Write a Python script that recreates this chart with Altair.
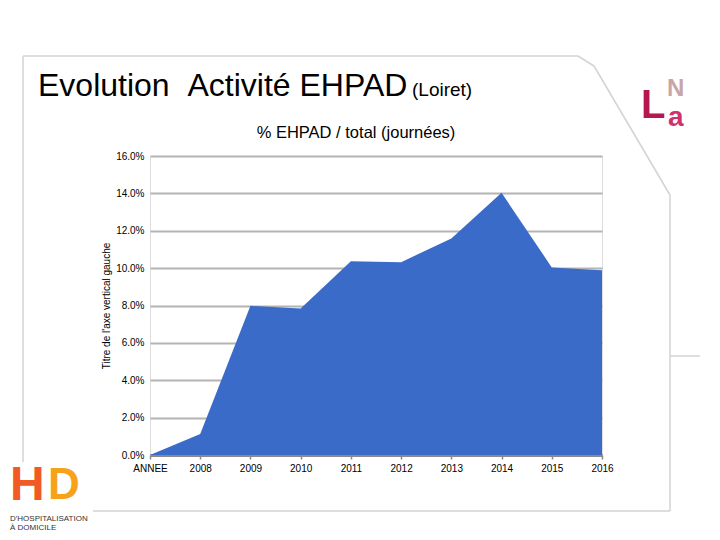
import altair as alt
import pandas as pd

categories = ["ANNEE", "2008", "2009", "2010", "2011", "2012", "2013", "2014", "2015", "2016"]
values = [0.0000, 0.0112, 0.0798, 0.0784, 0.1037, 0.1032, 0.1159, 0.1403, 0.1004, 0.0989]
y_ticks = [0.0, 0.02, 0.04, 0.06, 0.08, 0.10, 0.12, 0.14, 0.16]

df = pd.DataFrame({"annee": categories, "pct": values})
one = pd.DataFrame({"k": [0]})

W, H = 452, 299
FONT = "Liberation Sans"
FRAME = "#d3d3d3"

x_enc = alt.X("annee:N", sort=categories,
              scale=alt.Scale(type="point", padding=0),
              axis=alt.Axis(title=None, labelAngle=0, labelFontSize=10, labelFont=FONT,
                            labelColor="#000000", labelPadding=4,
                            domainColor="#8a8a8a", domainWidth=3, tickColor="#8a8a8a",
                            tickSize=4, tickWidth=1.5, grid=False))
y_enc = alt.Y("pct:Q", scale=alt.Scale(domain=[0, 0.16], nice=False),
              axis=alt.Axis(values=y_ticks, format=".1%", title="Titre de l'axe vertical gauche",
                            titleFontSize=10, titleFont=FONT, titleFontWeight="normal",
                            titleColor="#000000", titlePadding=4,
                            labelFontSize=10, labelFont=FONT, labelColor="#000000",
                            labelPadding=6, domain=False, ticks=False, grid=True,
                            gridColor="#b4b4b4", gridWidth=2))

area = alt.Chart(df).mark_area(color="#3b6bc9", opacity=1).encode(x=x_enc, y=y_enc)

base = alt.Chart(one)

def rule(x1, y1, x2, y2, color=FRAME, w=1.5):
    return base.mark_rule(color=color, strokeWidth=w).encode(
        x=alt.value(x1 - 150), y=alt.value(y1 - 156),
        x2=alt.value(x2 - 150), y2=alt.value(y2 - 156))

frame = [
    rule(23, 56, 23, 462),
    rule(23, 56, 578, 56),
    rule(578, 56, 594, 66),
    rule(594, 66, 670, 195),
    rule(670, 195, 670, 511),
    rule(93, 511, 670, 511),
    rule(670, 356, 700, 356),
]

def txt(s, x, y, size, color="#000000", align="left", weight="normal", baseline="alphabetic"):
    return base.mark_text(text=s, font=FONT, fontSize=size, color=color, align=align,
                          fontWeight=weight, baseline=baseline).encode(
        x=alt.value(x - 150), y=alt.value(y - 156))

texts = [
    txt("Evolution\u00a0\u00a0Activité EHPAD", 38, 96, 32),
    txt("(Loiret)", 412, 96, 19),
    txt("% EHPAD / total (journées)", 356, 138, 16.5, align="center"),
    # rough logos
    txt("H", 10, 500, 48, color="#f15a24", weight="bold"),
    txt("D", 48, 499, 44, color="#f7a21b", weight="bold"),
    txt("D'HOSPITALISATION", 10, 521, 8, color="#333333"),
    txt("À DOMICILE", 10, 530, 8, color="#333333"),
    txt("L", 641, 118, 40, color="#b5174f", weight="bold"),
    txt("N", 667, 96, 24, color="#c9a5a8", weight="bold"),
    txt("a", 668, 126, 28, color="#d1306f", weight="bold"),
]

chart = alt.layer(area, *frame, *texts).properties(
    width=W, height=H,
    padding={"left": 142, "top": 148, "right": 110, "bottom": 77},
    autosize=alt.AutoSizeParams(type="none"),
).configure_view(stroke=None).configure(background="#ffffff")

chart.save("out.html", embed_options={"renderer": "svg", "actions": False})
